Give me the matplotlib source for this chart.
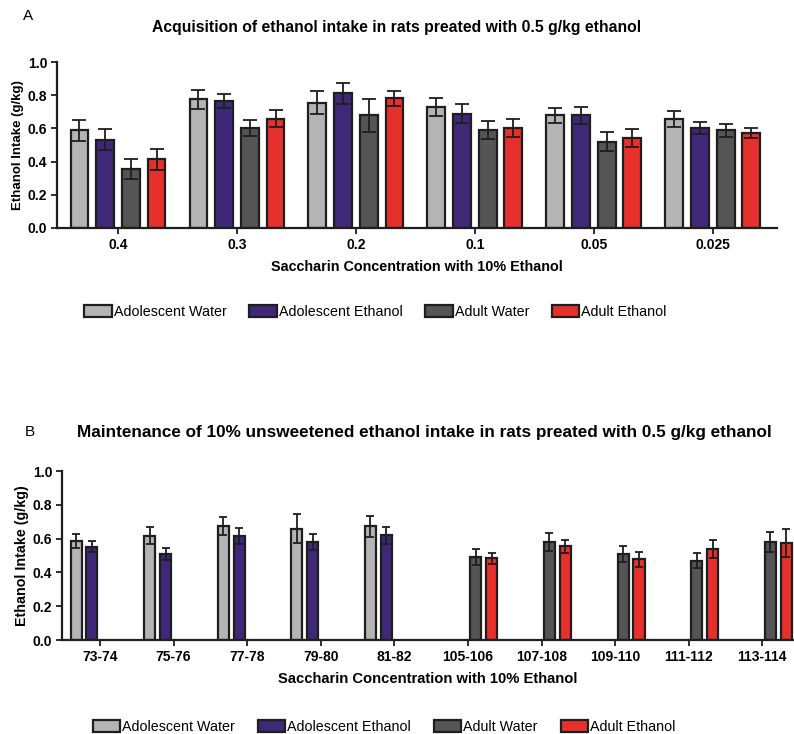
import numpy as np
import matplotlib
matplotlib.use("Agg")
from matplotlib import pyplot as plt
from matplotlib.patches import Patch

groups = ["Adolescent Water", "Adolescent Ethanol", "Adult Water", "Adult Ethanol"]
colors = ["#b4b4b4", "#3f2878", "#555555", "#e5302c"]

# panel A
conc_labels = ["0.4", "0.3", "0.2", "0.1", "0.05", "0.025"]
acq_adol_water = [0.588, 0.775, 0.756, 0.727, 0.678, 0.656]
acq_adol_eth = [0.532, 0.767, 0.811, 0.689, 0.678, 0.601]
acq_adult_water = [0.356, 0.601, 0.679, 0.593, 0.521, 0.588]
acq_adult_eth = [0.413, 0.658, 0.781, 0.605, 0.544, 0.574]
acq_sem_adol_water = [0.062, 0.058, 0.067, 0.055, 0.043, 0.047]
acq_sem_adol_eth = [0.065, 0.043, 0.062, 0.057, 0.050, 0.036]
acq_sem_adult_water = [0.062, 0.048, 0.098, 0.054, 0.059, 0.039]
acq_sem_adult_eth = [0.065, 0.051, 0.043, 0.054, 0.055, 0.031]

# panel B
day_labels = ["73-74", "75-76", "77-78", "79-80", "81-82",
              "105-106", "107-108", "109-110", "111-112", "113-114"]
nan = np.nan
mnt_adol_water = [0.587, 0.617, 0.674, 0.659, 0.672, nan, nan, nan, nan, nan]
mnt_adol_eth = [0.552, 0.511, 0.615, 0.580, 0.619, nan, nan, nan, nan, nan]
mnt_adult_water = [nan, nan, nan, nan, nan, 0.491, 0.580, 0.507, 0.469, 0.581]
mnt_adult_eth = [nan, nan, nan, nan, nan, 0.483, 0.554, 0.478, 0.537, 0.572]
mnt_sem_adol_water = [0.042, 0.050, 0.052, 0.084, 0.060, nan, nan, nan, nan, nan]
mnt_sem_adol_eth = [0.034, 0.035, 0.047, 0.049, 0.052, nan, nan, nan, nan, nan]
mnt_sem_adult_water = [nan, nan, nan, nan, nan, 0.048, 0.055, 0.048, 0.043, 0.060]
mnt_sem_adult_eth = [nan, nan, nan, nan, nan, 0.033, 0.037, 0.044, 0.053, 0.082]

plt.rcParams["font.family"] = ["Liberation Sans", "DejaVu Sans"]
edge = "#1e1e1e"

fig = plt.figure(figsize=(7.94, 7.34), dpi=100)


def panel(ax, labels, means, sems, capsize, xlim, ylab_size, xlab_size):
    x = np.arange(len(labels))
    step = 0.216
    width = 0.15
    for i in range(4):
        pos = x + (i - 1.5) * step
        ax.bar(pos, means[i], width, color=colors[i], edgecolor=edge,
               linewidth=1.6, zorder=2)
        ax.errorbar(pos, means[i], yerr=sems[i], fmt="none", ecolor=edge,
                    elinewidth=1.3, capsize=capsize, capthick=1.3, zorder=3)
    ax.set_xticks(x)
    ax.set_xticklabels(labels, fontweight="bold", fontsize=10)
    ax.set_xlim(*xlim)
    ax.set_ylim(0, 1.0)
    ax.set_yticks(np.arange(0, 1.01, 0.2))
    ax.set_yticklabels(["%.1f" % v for v in np.arange(0, 1.01, 0.2)],
                       fontweight="bold", fontsize=10)
    for s in ["top", "right"]:
        ax.spines[s].set_visible(False)
    for s in ["left", "bottom"]:
        ax.spines[s].set_linewidth(1.6)
        ax.spines[s].set_color(edge)
    ax.tick_params(width=1.3, length=4, color=edge, pad=3)
    ax.set_ylabel("Ethanol Intake (g/kg)", fontsize=ylab_size, fontweight="bold", labelpad=3)
    ax.set_xlabel("Saccharin Concentration with 10% Ethanol",
                  fontsize=xlab_size, fontweight="bold", labelpad=6)


axA = fig.add_axes([0.0718, 0.6894, 0.9068, 0.2261])
panel(axA, conc_labels,
      [acq_adol_water, acq_adol_eth, acq_adult_water, acq_adult_eth],
      [acq_sem_adol_water, acq_sem_adol_eth, acq_sem_adult_water, acq_sem_adult_eth],
      5, (-0.513, 5.54), 9.5, 10.4)

axB = fig.add_axes([0.078, 0.128, 0.922, 0.2303])
panel(axB, day_labels,
      [mnt_adol_water, mnt_adol_eth, mnt_adult_water, mnt_adult_eth],
      [mnt_sem_adol_water, mnt_sem_adol_eth, mnt_sem_adult_water, mnt_sem_adult_eth],
      3, (-0.516, 9.43), 10.3, 10.6)

fig.text(0.035, 0.978, "A", fontsize=11, ha="center", va="center")
fig.text(0.5, 0.963, "Acquisition of ethanol intake in rats preated with 0.5 g/kg ethanol",
         fontsize=11.3, fontweight="bold", ha="center", va="center")
fig.text(0.038, 0.411, "B", fontsize=11, ha="center", va="center")
fig.text(0.097, 0.411,
         "Maintenance of 10% unsweetened ethanol intake in rats preated with 0.5 g/kg ethanol",
         fontsize=12.3, fontweight="bold", ha="left", va="center")

handles = [Patch(facecolor=c, edgecolor=edge, linewidth=1.6) for c in colors]
for x, y in [(0.473, 0.575), (0.484, 0.0095)]:
    fig.legend(handles, groups, loc="center", bbox_to_anchor=(x, y), ncol=4,
               frameon=False, prop={"size": 10.3},
               handlelength=1.9, handleheight=0.85, handletextpad=0.15,
               columnspacing=1.6)

fig.savefig("out.png", dpi=100)
